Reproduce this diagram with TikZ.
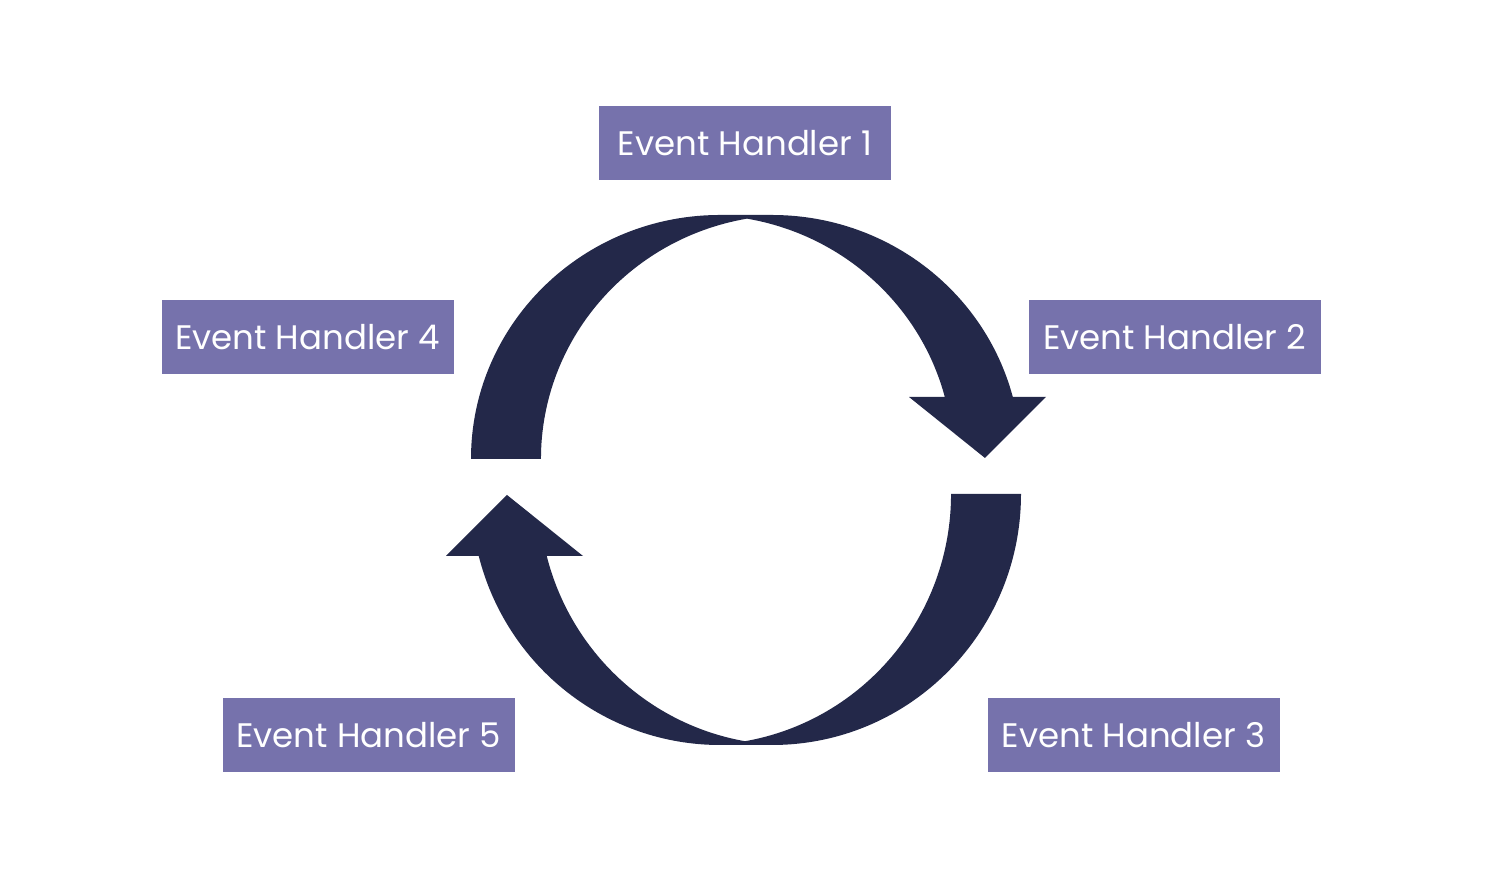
\documentclass[tikz,border=0pt]{standalone}
\usepackage{fontspec}
\setmainfont{Poppins}
\definecolor{boxfill}{HTML}{7672AC}
\definecolor{arrowfill}{HTML}{232849}
\tikzset{
  handler/.style={fill=boxfill, text=white, minimum width=292pt, minimum height=74pt,
    inner sep=0pt, font=\fontsize{34}{40}\selectfont},
  cyclearrow/.pic={
    \pgfmathsetmacro\ry{#1}
    \pgfmathsetmacro\ta{asin(62/\ry)}
    \pgfmathsetmacro\xo{772+249*cos(\ta)}
    \pgfmathsetmacro\xi{704+249*cos(\ta)}
    \pgfmathsetmacro\ytop{431+\ry}
    \fill[arrowfill] (471,431)
      arc[start angle=180, end angle=90, x radius=249pt, y radius=\ry pt]
      -- (772,\ytop)
      arc[start angle=90, end angle=\ta, x radius=249pt, y radius=\ry pt]
      -- (1046,493) -- (985,432) -- (909,493) -- (\xi,493)
      arc[start angle=\ta, end angle=80.06, x radius=249pt, y radius=\ry pt]
      arc[start angle=99.94, end angle=180, x radius=249pt, y radius=\ry pt]
      -- cycle;
  }
}
\begin{document}
\begin{tikzpicture}[x=1pt, y=1pt]
\useasboundingbox[fill=white] (0,0) rectangle (1492,890);
\pic at (0,0) {cyclearrow=244};
\pic[rotate=180] at (1492,827) {cyclearrow=251};
\node[handler] (eh1) at (745,747) {Event Handler 1};
\node[handler] (eh2) at (1174.5,553) {Event Handler 2};
\node[handler] (eh4) at (307.5,553) {Event Handler 4};
\node[handler] (eh5) at (368.5,154.5) {Event Handler 5};
\node[handler] (eh3) at (1133.5,154.5) {Event Handler 3};
\end{tikzpicture}
\end{document}
